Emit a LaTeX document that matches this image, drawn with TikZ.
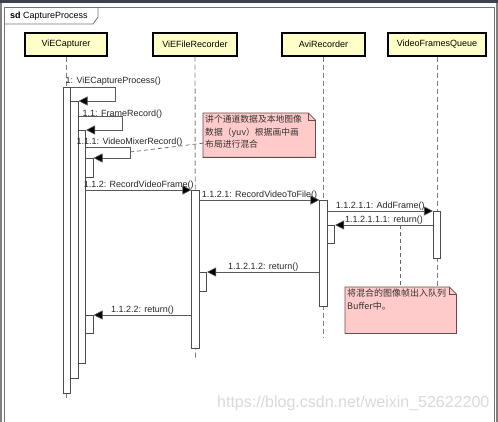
\documentclass[tikz,border=0pt]{standalone}
\usepackage{fontspec}
\setmainfont{Liberation Sans}
\newfontfamily\cjk{Noto Sans CJK SC}
\usetikzlibrary{shapes, shapes.geometric, arrows.meta, positioning}
\definecolor{headfill}{HTML}{FFFFC8}
\definecolor{notefill}{HTML}{FFCACA}
\definecolor{noteedge}{HTML}{6B4A4A}
\definecolor{winbar}{HTML}{3C4250}

\begin{document}
\begin{tikzpicture}[x=1pt, y=-1pt,
  head/.style={draw=black, line width=1.3pt, fill=headfill, minimum height=23pt, inner sep=0pt, font=\fontsize{9}{10}\selectfont},
  life/.style={draw=gray, line width=0.9pt, dash pattern=on 5pt off 3pt},
  act/.style={draw=black!70, fill=white, line width=0.6pt, minimum width=7.5pt, inner sep=0pt, anchor=north},
  msg/.style={draw=black!65, line width=0.6pt, -{Triangle[length=9pt, width=9pt, fill=black]}},
  lbl/.style={text=black!85, font=\fontsize{9}{10}\selectfont, inner sep=0.5pt},
  note/.style={fill=notefill, anchor=north west, inner sep=0pt},
  notetext/.style={anchor=north west, inner sep=2pt, align=left, text=black!80, font=\cjk\fontsize{8.8}{12.5}\selectfont},
  link/.style={draw=black!60, line width=0.7pt, dash pattern=on 4pt off 3pt}]

  \useasboundingbox (0,0) rectangle (498,422);

  % window and sd frame
  \fill[winbar] (0,0) rectangle (498,3.5);
  \draw[gray, line width=1.5pt] (1,3.5) -- (1,422) (497,3.5) -- (497,422);
  \draw[black!55, line width=0.8pt] (4.5,422) -- (4.5,7) -- (494,7) -- (494,422);
  \draw[black!55, line width=0.8pt] (4.5,24) -- (93,24) -- (98,17) -- (98,7);
  \node[anchor=west, inner sep=0pt, font=\fontsize{9}{10}\selectfont] (sd) at (10,16) {\textbf{sd} CaptureProcess};

  % lifeline heads
  \node[head, minimum width=82pt] (cap) at (66,44.5) {ViECapturer};
  \node[head, minimum width=84pt] (file) at (195,44.5) {ViEFileRecorder};
  \node[head, minimum width=83pt] (avi) at (323.5,44.5) {AviRecorder};
  \node[head, minimum width=98pt] (queue) at (437,44.5) {VideoFramesQueue};

  \draw[life] (cap.south) -- (66,398);
  \draw[life] (file.south) -- (195.5,358);
  \draw[life] (avi.south) -- (323.5,337);
  \draw[life] (queue.south) -- (437,287);

  % activations
  \node[act, minimum height=306pt] (c1) at (67,87) {};
  \node[act, minimum height=277pt] (c2) at (74.5,101) {};
  \node[act, minimum height=233pt] (c3) at (82,130) {};
  \node[act, minimum height=19pt] (c4) at (89.5,158) {};
  \node[act, minimum height=18pt] (c5) at (89.5,315) {};
  \node[act, minimum height=158pt] (f1) at (195.5,190) {};
  \node[act, minimum height=18.5pt] (f2) at (203,272) {};
  \node[act, minimum height=106pt] (a1) at (323.5,200) {};
  \node[act, minimum height=18pt] (a2) at (331,225) {};
  \node[act, minimum height=47pt] (q1) at (437,211) {};

  % notes
  \node[note, minimum width=112pt, minimum height=44pt] (n1) at (203,113) {};
  \node[note, minimum width=111pt, minimum height=46pt] (n2) at (345,287) {};
  \foreach \n in {n1,n2}{
    \fill[white] ([xshift=-7pt]\n.north east) -- (\n.north east) -- ([yshift=-7pt]\n.north east) -- cycle;
    \draw[noteedge, line width=0.8pt] (\n.south west) -- (\n.north west) -- ([xshift=-7pt]\n.north east)
      -- ([yshift=-7pt]\n.north east) -- (\n.south east) -- cycle;
    \draw[noteedge, line width=0.6pt] ([xshift=-7pt]\n.north east) |- ([yshift=-7pt]\n.north east);
  }
  \node[notetext] (t1) at (n1.north west) {讲个通道数据及本地图像\\数据（yuv）根据画中画\\布局进行混合};
  \node[notetext, font=\cjk\fontsize{9}{13}\selectfont] (t2) at (n2.north west) {将混合的图像帧出入队列\\Buffer中。};

  % self messages
  \draw[msg] (c1.north east) -- (115,87) |- (c2.north east);
  \node[lbl, anchor=south west] (l1) at (65,86) {1: ViECaptureProcess()};
  \draw[msg] (c2.east |- 0,116) -- (122,116) |- (c3.north east);
  \node[lbl, anchor=west] (l11) at (82,114) {1.1: FrameRecord()};
  \draw[msg] (c3.east |- 0,147) -- (130,147) |- (c4.north east);
  \node[lbl, anchor=west] (l111) at (76,142) {1.1.1: VideoMixerRecord()};
  \coordinate (m1) at (130,152);
  \draw[link] (m1) -- ([yshift=-8pt]n1.west);

  % calls and returns
  \draw[msg] (c3.east |- 0,190) -- node[lbl, above] {1.1.2: RecordVideoFrame()} (f1.north west);
  \draw[msg] (f1.east |- 0,200) -- node[lbl, above] {1.1.2.1: RecordVideoToFile()} (a1.north west);
  \draw[msg] (a1.east |- 0,211) -- node[lbl, above] {1.1.2.1.1: AddFrame()} (q1.north west);
  \draw[msg] (q1.west |- 0,225) -- node[lbl, above] {1.1.2.1.1.1: return()} (a2.north east);
  \draw[msg] (a1.west |- 0,272) -- node[lbl, above] {1.1.2.1.2: return()} (f2.north east);
  \draw[msg] (f1.west |- 0,315) -- node[lbl, above] {1.1.2.2: return()} (c5.north east);
  \coordinate (m2) at (400,225);
  \draw[link] (m2) -- (m2 |- n2.north);

  \node[anchor=west, inner sep=0pt, text=black!15, font=\fontsize{16}{18}\selectfont] (wm) at (217,403) {https://blog.csdn.net/weixin\_52622200};
\end{tikzpicture}
\end{document}
